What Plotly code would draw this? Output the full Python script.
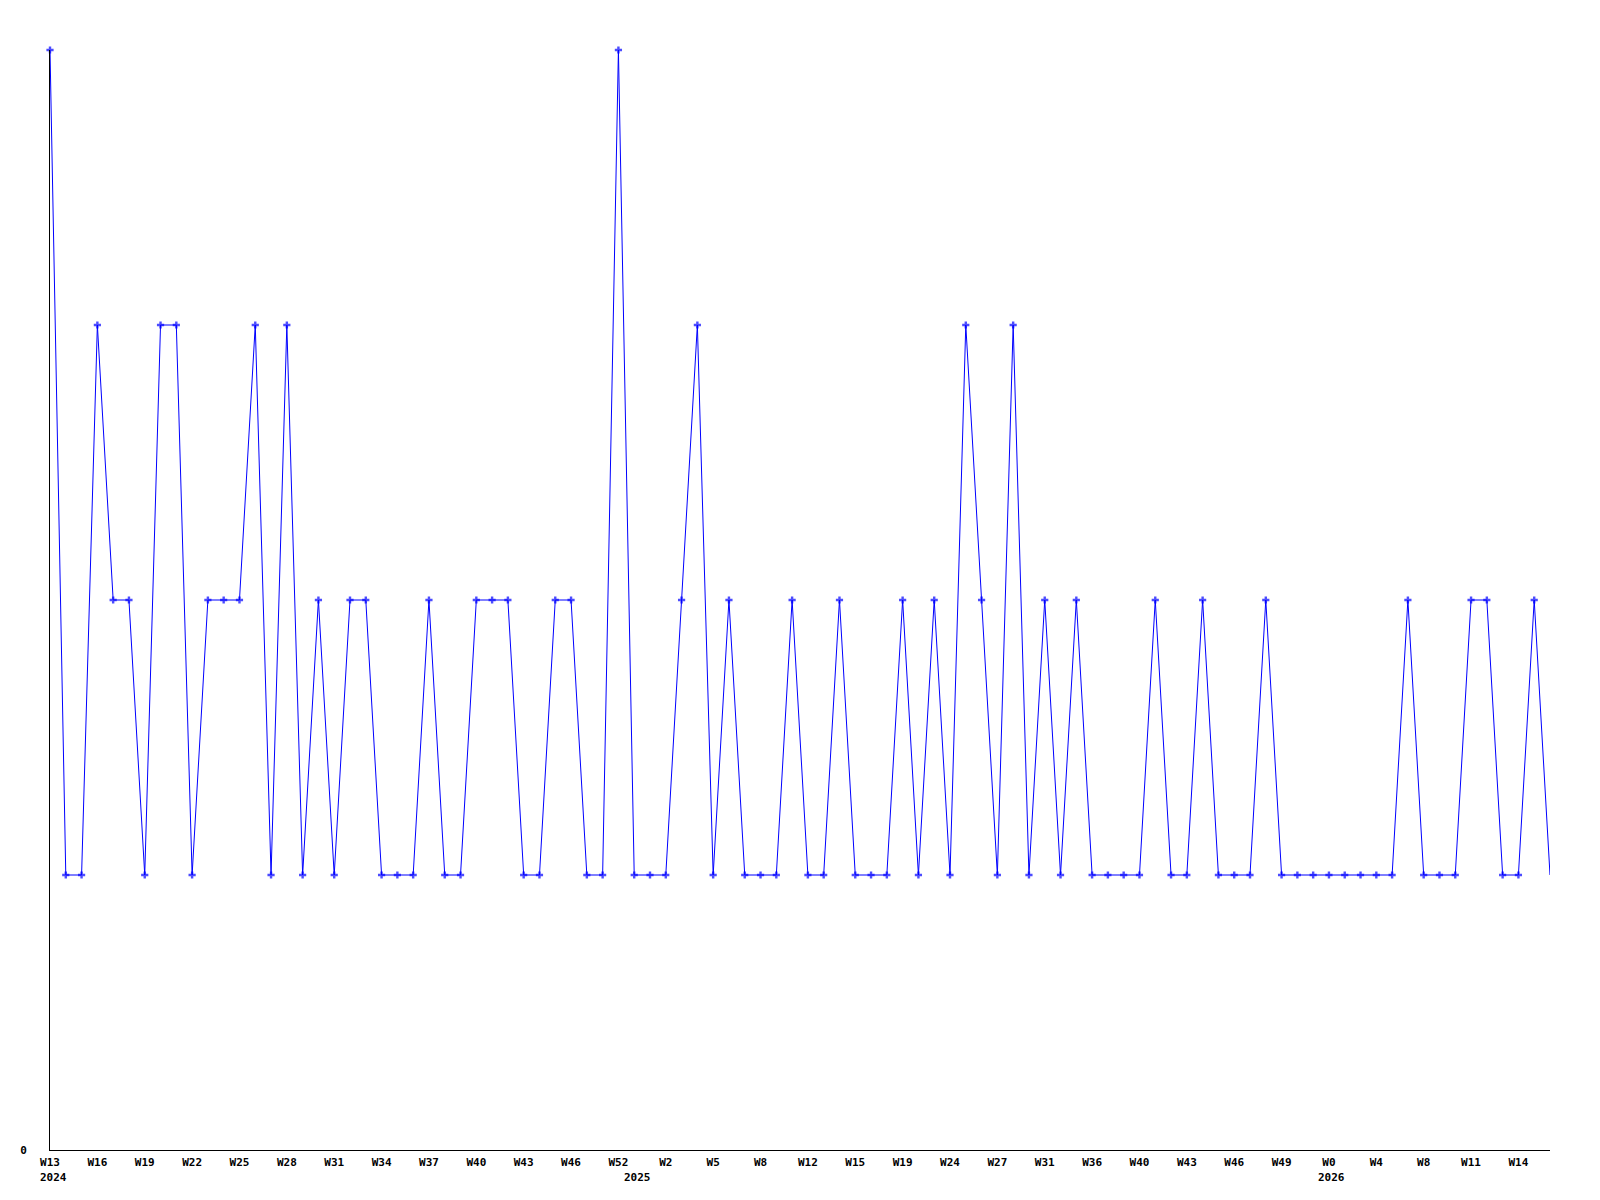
"""Weekly counts, line with small cross markers and sparse week labels."""

import plotly.graph_objects as go

# one value per reported week, in order
counts = [
    4, 1, 1, 3, 2, 2, 1, 3, 3, 1,
    2, 2, 2, 3, 1, 3, 1, 2, 1, 2,
    2, 1, 1, 1, 2, 1, 1, 2, 2, 2,
    1, 1, 2, 2, 1, 1, 4, 1, 1, 1,
    2, 3, 1, 2, 1, 1, 1, 2, 1, 1,
    2, 1, 1, 1, 2, 1, 2, 1, 3, 2,
    1, 3, 1, 2, 1, 2, 1, 1, 1, 1,
    2, 1, 1, 2, 1, 1, 1, 2, 1, 1,
    1, 1, 1, 1, 1, 1, 2, 1, 1, 1,
    2, 2, 1, 1, 2, 1,
]

# every third point gets a label
week_labels = [
    "W13", "W16", "W19", "W22", "W25", "W28", "W31", "W34", "W37", "W40",
    "W43", "W46", "W52", "W2", "W5", "W8", "W12", "W15", "W19", "W24",
    "W27", "W31", "W36", "W40", "W43", "W46", "W49", "W0", "W4", "W8",
    "W11", "W14",
]

# first point of each year
year_labels = ["2024", "2025", "2026"]
year_starts = [0, 37, 81]

x = list(range(len(counts)))
tick_pos = x[::3][:len(week_labels)]

mono = dict(family="DejaVu Sans Mono", size=11, color="black", weight="bold")

sizes = [6] * len(counts)
sizes[-1] = 0  # last point is drawn without a marker

fig = go.Figure(
    go.Scatter(
        x=x,
        y=counts,
        mode="lines+markers",
        line=dict(color="#0000ff", width=1),
        marker=dict(symbol="cross", size=sizes, color="#0000ff",
                    line=dict(width=0)),
        cliponaxis=False,
        hoverinfo="x+y",
    )
)

for label, pos in zip(year_labels, year_starts):
    fig.add_annotation(
        x=pos, y=0, xref="x", yref="paper",
        text=label, showarrow=False,
        xanchor="center", yanchor="middle", xshift=3, yshift=-27,
        font=mono,
    )

# page body adds 8px, so margins are shifted to put the plot at 50..1550 / 50..1150
fig.update_layout(
    width=1600,
    height=1200,
    margin=dict(l=42, r=58, t=42, b=58),
    paper_bgcolor="white",
    plot_bgcolor="white",
    showlegend=False,
    xaxis=dict(
        range=[0, len(counts) - 1],
        tickmode="array",
        tickvals=tick_pos,
        ticktext=week_labels,
        tickfont=mono,
        showgrid=False,
        zeroline=False,
        showline=True,
        linecolor="black",
        linewidth=1,
        ticks="",
        ticklabelstandoff=2,
    ),
    yaxis=dict(
        range=[0, 4],
        tickmode="array",
        tickvals=[0],
        ticktext=["0"],
        tickfont=mono,
        showgrid=False,
        zeroline=False,
        showline=True,
        linecolor="black",
        linewidth=1,
        ticks="",
        ticklabelstandoff=20,
    ),
)

fig.write_html("out.html")
